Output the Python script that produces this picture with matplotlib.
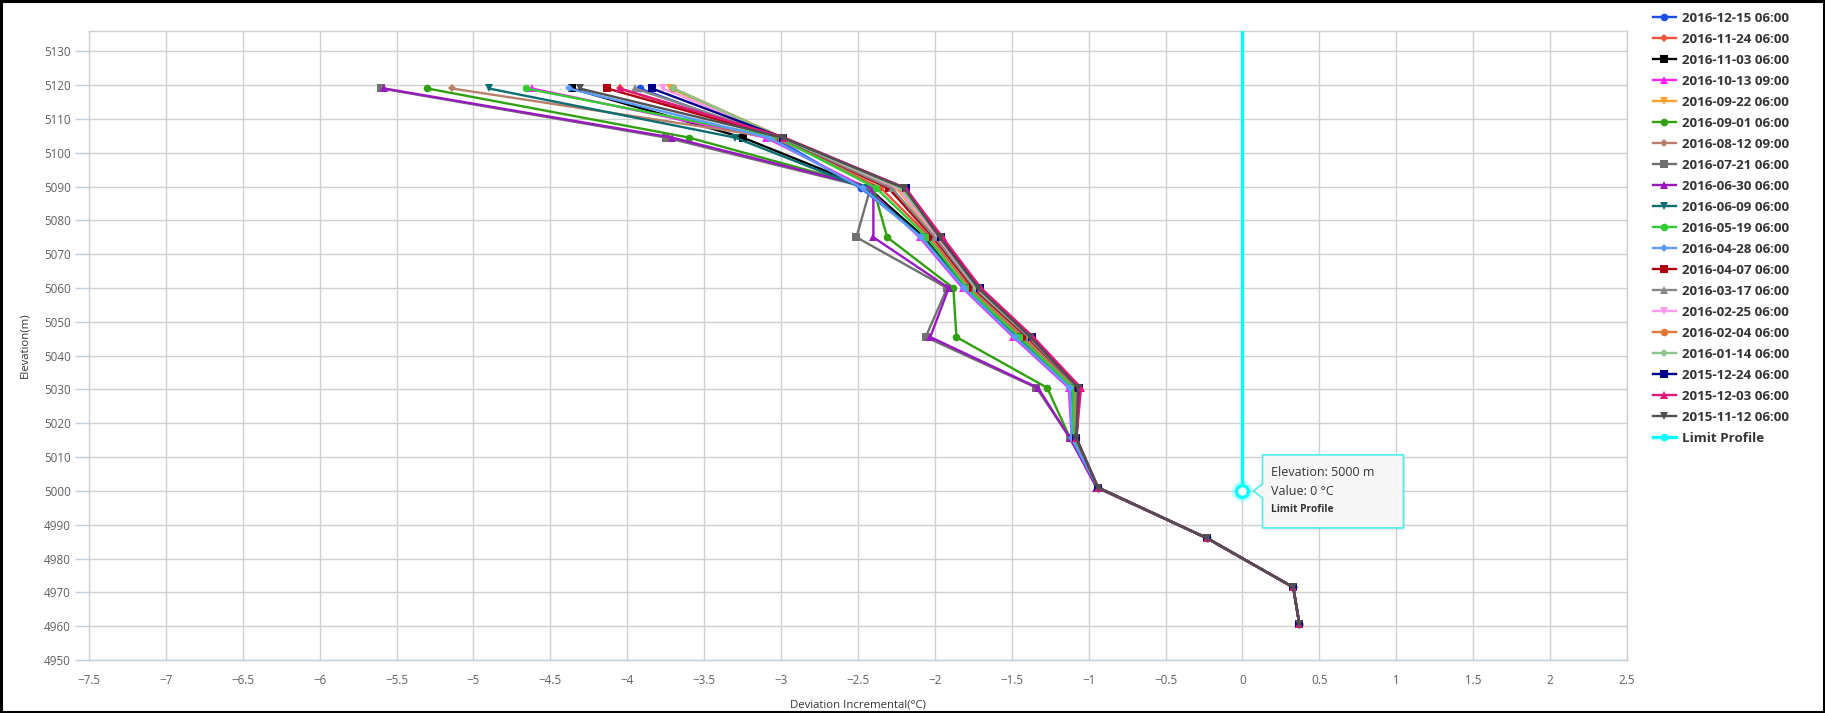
import matplotlib
matplotlib.use("Agg")
import matplotlib.pyplot as plt
from matplotlib.patches import Polygon, Rectangle
import numpy as np

# Sensor elevations (m), top to bottom
elevations = [5119, 5104.5, 5089.5, 5075, 5060, 5045.5, 5030.5, 5015.5, 5001, 4986, 4971.5, 4960.5]

series_names = [
    "2016-12-15 06:00", "2016-11-24 06:00", "2016-11-03 06:00", "2016-10-13 09:00",
    "2016-09-22 06:00", "2016-09-01 06:00", "2016-08-12 09:00", "2016-07-21 06:00",
    "2016-06-30 06:00", "2016-06-09 06:00", "2016-05-19 06:00", "2016-04-28 06:00",
    "2016-04-07 06:00", "2016-03-17 06:00", "2016-02-25 06:00", "2016-02-04 06:00",
    "2016-01-14 06:00", "2015-12-24 06:00", "2015-12-03 06:00", "2015-11-12 06:00",
]

# Deviation increments (°C) for each profile, one value per elevation
d_2016_12_15 = [-3.92, -3.05, -2.48, -2.08, -1.80, -1.47, -1.12, -1.10, -0.94, -0.23, 0.33, 0.37]
d_2016_11_24 = [-4.05, -3.02, -2.35, -2.03, -1.77, -1.43, -1.09, -1.09, -0.94, -0.23, 0.33, 0.37]
d_2016_11_03 = [-4.36, -3.25, -2.43, -2.07, -1.80, -1.46, -1.10, -1.10, -0.94, -0.23, 0.33, 0.37]
d_2016_10_13 = [-4.62, -3.10, -2.44, -2.10, -1.82, -1.49, -1.13, -1.11, -0.94, -0.23, 0.33, 0.37]
d_2016_09_22 = [-3.72, -3.00, -2.25, -1.99, -1.74, -1.40, -1.08, -1.08, -0.94, -0.23, 0.33, 0.37]
d_2016_09_01 = [-5.30, -3.60, -2.40, -2.31, -1.88, -1.86, -1.27, -1.12, -0.94, -0.23, 0.33, 0.37]
d_2016_08_12 = [-5.14, -3.05, -2.30, -2.02, -1.76, -1.42, -1.09, -1.09, -0.94, -0.23, 0.33, 0.37]
d_2016_07_21 = [-5.60, -3.75, -2.42, -2.51, -1.92, -2.06, -1.34, -1.12, -0.94, -0.23, 0.33, 0.37]
d_2016_06_30 = [-5.58, -3.71, -2.40, -2.40, -1.91, -2.03, -1.33, -1.12, -0.95, -0.23, 0.33, 0.37]
d_2016_06_09 = [-4.90, -3.30, -2.46, -2.08, -1.80, -1.46, -1.11, -1.10, -0.94, -0.23, 0.33, 0.37]
d_2016_05_19 = [-4.66, -3.02, -2.38, -2.05, -1.79, -1.45, -1.10, -1.10, -0.94, -0.23, 0.33, 0.37]
d_2016_04_28 = [-4.38, -3.08, -2.47, -2.09, -1.81, -1.48, -1.12, -1.11, -0.94, -0.23, 0.33, 0.37]
d_2016_04_07 = [-4.13, -3.00, -2.30, -2.01, -1.75, -1.40, -1.07, -1.08, -0.94, -0.23, 0.33, 0.37]
d_2016_03_17 = [-3.95, -3.00, -2.28, -2.00, -1.74, -1.39, -1.07, -1.08, -0.94, -0.23, 0.33, 0.37]
d_2016_02_25 = [-3.77, -2.99, -2.24, -1.98, -1.73, -1.38, -1.07, -1.08, -0.94, -0.23, 0.33, 0.37]
d_2016_02_04 = [-3.70, -2.99, -2.22, -1.97, -1.72, -1.37, -1.06, -1.08, -0.94, -0.23, 0.33, 0.37]
d_2016_01_14 = [-3.70, -3.00, -2.22, -1.97, -1.73, -1.38, -1.06, -1.08, -0.94, -0.23, 0.33, 0.37]
d_2015_12_24 = [-3.84, -2.99, -2.19, -1.96, -1.71, -1.37, -1.06, -1.08, -0.94, -0.23, 0.33, 0.37]
d_2015_12_03 = [-4.05, -2.98, -2.19, -1.95, -1.70, -1.36, -1.05, -1.08, -0.94, -0.23, 0.33, 0.37]
d_2015_11_12 = [-4.31, -2.99, -2.20, -1.97, -1.72, -1.38, -1.07, -1.08, -0.94, -0.23, 0.33, 0.37]

series_values = [
    d_2016_12_15, d_2016_11_24, d_2016_11_03, d_2016_10_13, d_2016_09_22,
    d_2016_09_01, d_2016_08_12, d_2016_07_21, d_2016_06_30, d_2016_06_09,
    d_2016_05_19, d_2016_04_28, d_2016_04_07, d_2016_03_17, d_2016_02_25,
    d_2016_02_04, d_2016_01_14, d_2015_12_24, d_2015_12_03, d_2015_11_12,
]

# Limit profile (vertical reference at 0 °C)
limit_values = [0, 0]
limit_elevations = [5000, 5140]

# Tooltip contents for the hovered limit point
tip_elevation = 5000
tip_value = 0

x_ticks = [-7.5, -7, -6.5, -6, -5.5, -5, -4.5, -4, -3.5, -3, -2.5, -2, -1.5, -1,
           -0.5, 0, 0.5, 1, 1.5, 2, 2.5]
x_tick_labels = ["\u22127.5", "\u22127", "\u22126.5", "\u22126", "\u22125.5", "\u22125",
                 "\u22124.5", "\u22124", "\u22123.5", "\u22123", "\u22122.5", "\u22122",
                 "\u22121.5", "\u22121", "\u22120.5", "0", "0.5", "1", "1.5", "2", "2.5"]
y_ticks = list(range(4950, 5131, 10))

colors = ["#1a4fe8", "#f5503a", "#000000", "#ff22ff", "#ffa033", "#30a010", "#b8806a",
          "#707070", "#9a18c0", "#0a6e72", "#33cc33", "#5a9cff", "#b00010", "#888888",
          "#ff99ee", "#e07838", "#88c488", "#000088", "#e0187a", "#505050"]
marker_cycle = ["o", "D", "s", "^", "v"]
marker_sizes = {"o": 5.5, "D": 4.2, "s": 5.2, "^": 5.5, "v": 5.5}

plt.rcParams["font.family"] = ["Open Sans", "DejaVu Sans"]

W, H, DPI = 1825, 713, 100
fig = plt.figure(figsize=(W / DPI, H / DPI), dpi=DPI)

left, right, bottom, top = 89, 1627, 660, 31
ax = fig.add_axes([left / W, 1 - bottom / H, (right - left) / W, (bottom - top) / H])

for i, (name, vals) in enumerate(zip(series_names, series_values)):
    m = marker_cycle[i % 5]
    ax.plot(vals, elevations, color=colors[i], lw=1.7, marker=m,
            markersize=marker_sizes[m], markeredgewidth=0, label=name,
            solid_joinstyle="round", zorder=3 + i * 0.01)

ax.plot(limit_values, limit_elevations, color="#00ffff", lw=2.4, marker="o",
        markersize=5.5, markeredgewidth=0, label="Limit Profile", zorder=4)

ax.set_xlim(-7.5, 2.5)
ax.set_ylim(4950, 5136)
ax.set_xticks(x_ticks)
ax.set_xticklabels(x_tick_labels)
ax.set_yticks(y_ticks)

ax.grid(True, color="#d0d0d0", lw=1)
ax.set_axisbelow(True)
for s in ["top", "right", "left"]:
    ax.spines[s].set_color("#d0d0d0")
    ax.spines[s].set_linewidth(1)
ax.spines["bottom"].set_color("#c0d0e0")
ax.spines["bottom"].set_linewidth(1)

ax.tick_params(axis="x", length=0, pad=10, labelsize=8.4, labelcolor="#606060")
ax.tick_params(axis="y", length=10, width=1, color="#c0d0e0", pad=3,
               labelsize=8.4, labelcolor="#606060")

ax.set_xlabel("Deviation Incremental(\u00b0C)", fontsize=8.2, color="#333333", labelpad=9)
ax.set_ylabel("Elevation(m)", fontsize=8.2, color="#333333", labelpad=10)

# Legend on the right
leg = ax.legend(loc="upper left", bbox_to_anchor=(1653 / W, 1 - 12 / H),
                bbox_transform=fig.transFigure, frameon=False,
                prop={"weight": "bold", "size": 9.6}, handlelength=1.7,
                handletextpad=0.45, labelspacing=0.6, borderaxespad=0,
                borderpad=0)
for t in leg.get_texts():
    t.set_color("#333333")

# Tooltip for the hovered limit point
fig.canvas.draw()
px, py = ax.transData.transform((tip_value, tip_elevation))  # display pixels

bx0, bx1 = px + 20, px + 161
by_top, by_bot = py + 36, py - 37
notch = 7
tip_x = px + 11
shadow = Polygon([(bx0 + 2, by_top - 2), (bx1 + 2, by_top - 2), (bx1 + 2, by_bot - 2),
                  (bx0 + 2, by_bot - 2)], closed=True, transform=None,
                 facecolor="#000000", alpha=0.08, edgecolor="none", zorder=9)
fig.patches.append(shadow)
box = Polygon([(bx0, by_top), (bx1, by_top), (bx1, by_bot), (bx0, by_bot),
               (bx0, py - notch), (tip_x, py), (bx0, py + notch)], closed=True,
              transform=None, facecolor="#f8f8f8", edgecolor="#44eeee", lw=1.2,
              alpha=0.95, zorder=10, joinstyle="round")
fig.patches.append(box)

fig.text((px + 29) / W, (py + 18) / H, f"Elevation: {tip_elevation} m", fontsize=9,
         color="#333333", ha="left", va="center", zorder=11)
fig.text((px + 29) / W, (py - 1) / H, f"Value: {tip_value} \u00b0C", fontsize=9,
         color="#333333", ha="left", va="center", zorder=11)
fig.text((px + 29) / W, (py - 19) / H, "Limit Profile", fontsize=7.4, weight="bold",
         color="#333333", ha="left", va="center", zorder=11)

# Hover marker with halo
ax.plot([tip_value], [tip_elevation], marker="o", markersize=15, color="#00ffff",
        alpha=0.25, markeredgewidth=0, zorder=12)
ax.plot([tip_value], [tip_elevation], marker="o", markersize=8.5,
        markerfacecolor="white", markeredgecolor="#00ffff", markeredgewidth=2.4, zorder=13)

# Outer frame
fig.patches.append(Rectangle((1, 1), W - 2, H - 2, transform=None, fill=False,
                             edgecolor="#000000", lw=2.2, zorder=20))

fig.savefig("out.png", dpi=DPI)
